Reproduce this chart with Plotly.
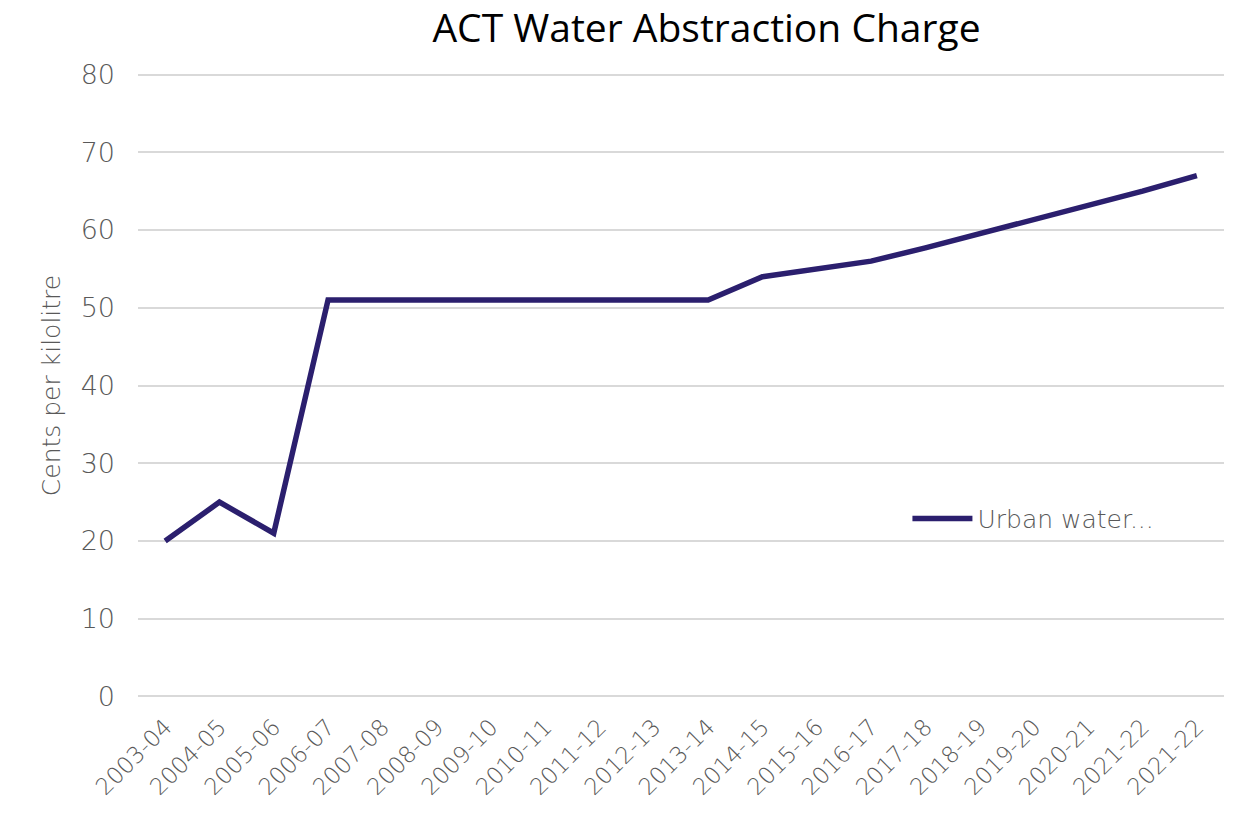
import plotly.graph_objects as go

years = ["2003-04", "2004-05", "2005-06", "2006-07", "2007-08", "2008-09", "2009-10",
         "2010-11", "2011-12", "2012-13", "2013-14", "2014-15", "2015-16", "2016-17",
         "2017-18", "2018-19", "2019-20", "2020-21", "2021-22", "2021-22"]
charge = [20, 25, 21, 51, 51, 51, 51, 51, 51, 51, 51, 54, 55, 56, 57.7, 59.5, 61.3, 63.1, 65.0, 67.0]
y_ticks = [0, 10, 20, 30, 40, 50, 60, 70, 80]
series_name = "Urban water..."

xpos = list(range(len(years)))

fig = go.Figure()
fig.add_trace(go.Scatter(
    x=xpos, y=charge, mode="lines", name=series_name,
    line=dict(color="#2B1F6E", width=5.5),
))

grey = "#595959"
FONT = "DejaVu Sans"
fig.update_layout(
    width=1256, height=815,
    paper_bgcolor="white", plot_bgcolor="white",
    margin=dict(l=138, r=32, t=73, b=117),
    title=dict(text="ACT Water Abstraction Charge", x=0.5625, xanchor="center",
               xref="container", y=0.9655, yanchor="middle", yref="container",
               font=dict(family="Open Sans", size=39, color="#000000")),
    showlegend=True,
    legend=dict(x=0.7085, y=0.287, xanchor="left", yanchor="middle",
                bgcolor="rgba(0,0,0,0)",
                font=dict(family=FONT, size=25, color=grey, weight=300),
                itemwidth=60),
    font=dict(family=FONT, color=grey),
)
fig.update_xaxes(
    tickmode="array", tickvals=xpos, ticktext=years, tickangle=-45,
    range=[-0.5, len(years) - 0.5], showgrid=False, zeroline=False, showline=False,
    tickfont=dict(family=FONT, size=23, color=grey, weight=300), ticks="",
    ticklabelstandoff=10,
)
fig.update_yaxes(
    range=[-0.2, 80.2], tickvals=y_ticks, showgrid=True, gridcolor="#D9D9D9", gridwidth=1.5,
    zeroline=False, showline=False, ticks="",
    tickfont=dict(family=FONT, size=27, color=grey, weight=300),
    ticklabelstandoff=22,
    title=dict(text="Cents per kilolitre",
               font=dict(family=FONT, size=25, color=grey, weight=300), standoff=12),
)
fig.write_html("out.html", config={"displayModeBar": False},
               post_script="document.body.style.margin='0';")
